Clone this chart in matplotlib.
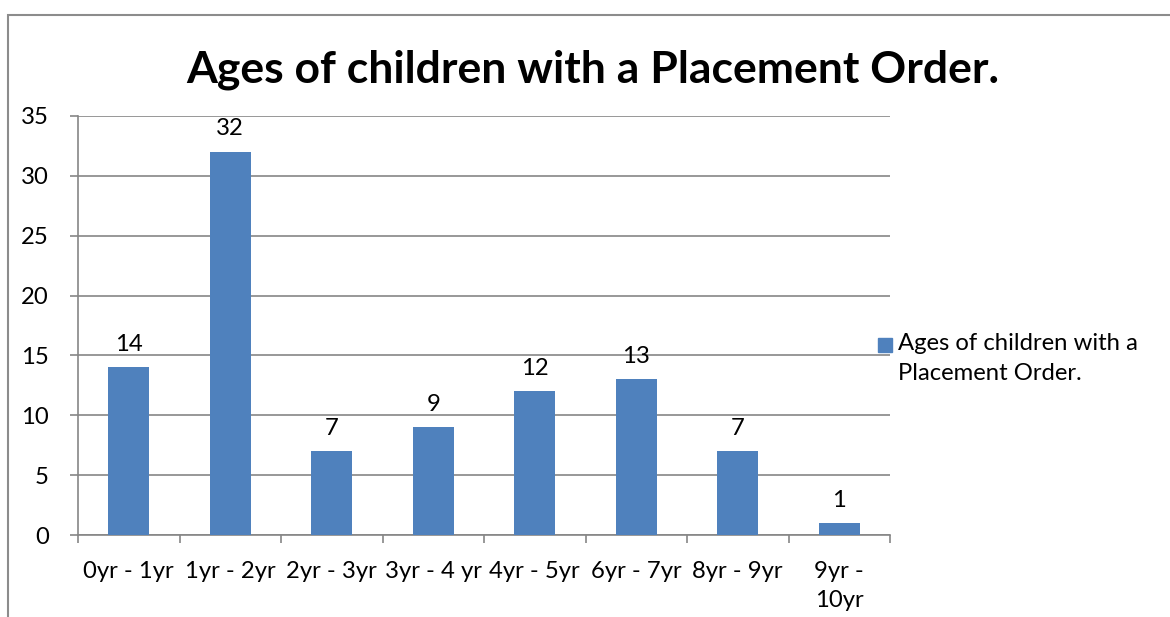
import numpy as np
import matplotlib.pyplot as plt
from matplotlib.patches import Rectangle

categories = ['0yr - 1yr', '1yr - 2yr', '2yr - 3yr', '3yr - 4 yr', '4yr - 5yr',
              '6yr - 7yr', '8yr - 9yr', '9yr -\n10yr']
counts = [14, 32, 7, 9, 12, 13, 7, 1]
series_name = 'Ages of children with a\nPlacement Order.'
title = 'Ages of children with a Placement Order.'

plt.rcParams['font.family'] = ['Lato', 'DejaVu Sans']
bar_color = '#4F81BD'
grid_color = '#868686'
fs = 17.2

fig = plt.figure(figsize=(11.7, 6.17), dpi=100)
W, H = 1170, 617

# chart border, runs off the right and bottom edge like the source image
fig.patches.append(Rectangle((8 / W, -0.1), 1.2, (617 - 15) / H + 0.1,
                             transform=fig.transFigure, fill=False,
                             edgecolor='#8c8c8c', linewidth=1.5))

ax = fig.add_axes([78 / W, (617 - 535) / H, (890 - 78) / W, (535 - 116) / H])
x = np.arange(len(categories))
bars = ax.bar(x, counts, width=0.4, color=bar_color, zorder=3,
              label=series_name)

ax.set_ylim(0, 35)
ax.set_xlim(-0.5, len(categories) - 0.5)
ax.set_yticks(np.arange(0, 36, 5))
ax.yaxis.grid(True, color=grid_color, linewidth=1.2, zorder=0)

ax.set_xticks(np.arange(-0.5, len(categories), 1.0))
ax.set_xticklabels([])
ax.set_xticks(x, minor=True)
ax.set_xticklabels(categories, minor=True)
ax.tick_params(axis='x', which='minor', length=0, pad=19, labelsize=fs)
ax.tick_params(axis='x', which='major', length=6, color=grid_color, width=1.2)
ax.tick_params(axis='y', length=6, color=grid_color, width=1.2, pad=15,
               labelsize=fs)
for lbl in ax.get_xticklabels(minor=True):
    lbl.set_verticalalignment('top')
    lbl.set_linespacing(1.45)

for s in ['top', 'right']:
    ax.spines[s].set_visible(False)
for s in ['left', 'bottom']:
    ax.spines[s].set_color(grid_color)
    ax.spines[s].set_linewidth(1.2)

for xi, v in zip(x, counts):
    ax.annotate(str(v), (xi, v), xytext=(0, 9), textcoords='offset points',
                ha='center', va='bottom', fontsize=fs)

fig.text(593 / W, 1 - 70 / H, title, ha='center', va='center',
         fontsize=32, fontweight='bold')

fig.patches.append(Rectangle((878 / W, 1 - 352 / H), 14 / W, 14 / H,
                             transform=fig.transFigure, color=bar_color))
fig.text(898 / W, 1 - 333 / H, series_name, ha='left', va='top',
         fontsize=fs, linespacing=1.55)

plt.savefig('out.png', dpi=100)
